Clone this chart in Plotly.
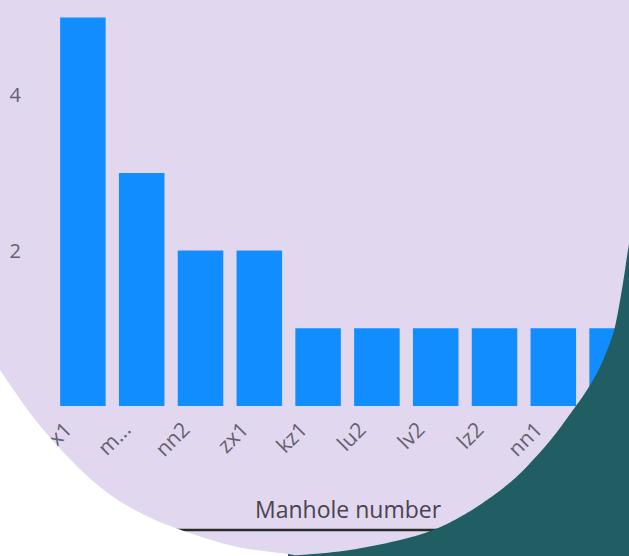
import numpy as np
import plotly.graph_objects as go

# ---- data ----
manholes = ["kx1", "m...", "nn2", "zx1", "kz1", "lu2", "lv2", "lz2", "nn1", "nz1"]
counts = [5, 3, 2, 2, 1, 1, 1, 1, 1, 1]
y_ticks = [0, 2, 4]

# ---- geometry (pixels) ----
W, H = 629, 556
L, R, T, B = 53, 0, 0, 150
PW, PH = W - L - R, H - T - B
BAR0_PX, STEP_PX = 82.9, 58.8
UNIT_PX = 77.7

def px_x(px):
    return (px - L) / PW

def px_y(py):
    return (H - B - py) / PH

LAV = "#E1D7EF"
TEAL = "#215E63"
BLUE = "#118DFF"

# outline of the rounded lavender window (pixels), left to right
WINDOW_EDGE = [(-8, 358), (0, 370), (33, 417), (67, 456), (100, 487), (133, 509),
               (173, 527), (233, 546), (288, 554), (300, 555), (350, 550), (400, 540),
               (433, 530), (460, 517), (487, 500), (513, 480), (533, 460), (553, 437),
               (573, 410), (587, 390), (600, 367), (612, 337), (617, 317), (623, 283),
               (628, 250), (632, 228), (636, 200)]

def catmull(pts, n=10):
    p = np.array(pts, dtype=float)
    p = np.vstack([p[0], p, p[-1]])
    out = []
    for i in range(1, len(p) - 2):
        p0, p1, p2, p3 = p[i - 1], p[i], p[i + 1], p[i + 2]
        for t in np.linspace(0, 1, n, endpoint=False):
            t2, t3 = t * t, t * t * t
            q = 0.5 * ((2 * p1) + (-p0 + p2) * t + (2 * p0 - 5 * p1 + 4 * p2 - p3) * t2
                       + (-p0 + 3 * p1 - 3 * p2 + p3) * t3)
            out.append((q[0], q[1]))
    out.append(tuple(p[-2]))
    return out

edge = catmull(WINDOW_EDGE)
SPLIT = 288

def poly_path(pts):
    s = "M {:.5f},{:.5f}".format(px_x(pts[0][0]), px_y(pts[0][1]))
    for (x, y) in pts[1:]:
        s += " L {:.5f},{:.5f}".format(px_x(x), px_y(y))
    return s + " Z"

left_edge = [pt for pt in edge if pt[0] <= SPLIT]
right_edge = [pt for pt in edge if pt[0] >= SPLIT]
white_pts = [(-8, H + 4)] + left_edge + [(SPLIT, H + 4)]
teal_pts = right_edge + [(640, H + 4), (SPLIT, H + 4)]

fig = go.Figure(go.Bar(
    x=list(range(len(manholes))), y=counts,
    marker=dict(color=BLUE, line=dict(width=0)),
    width=45.5 / STEP_PX,
))

shapes = [
    dict(type="line", xref="paper", yref="paper",
         x0=px_x(150), x1=px_x(460), y0=px_y(530), y1=px_y(530),
         line=dict(color="#2a2a2a", width=2.5), layer="above"),
    dict(type="path", xref="paper", yref="paper", path=poly_path(white_pts),
         fillcolor="#FFFFFF", line=dict(width=0), layer="above"),
    dict(type="path", xref="paper", yref="paper", path=poly_path(teal_pts),
         fillcolor=TEAL, line=dict(width=0), layer="above"),
]

fig.update_layout(
    width=W, height=H,
    margin=dict(l=L, r=R, t=T, b=B, pad=0),
    paper_bgcolor=LAV, plot_bgcolor=LAV,
    showlegend=False,
    font=dict(family="Open Sans", color="#67606e"),
    shapes=shapes,
    xaxis=dict(
        tickmode="array", tickvals=list(range(len(manholes))), ticktext=manholes,
        range=[(L - BAR0_PX) / STEP_PX, (W - R - BAR0_PX) / STEP_PX],
        tickangle=-45, tickfont=dict(size=21, color="#67606e"),
        showgrid=False, zeroline=False, showline=False, ticks="",
        ticklabelstandoff=6, ticklabelshift=-17,
    ),
    yaxis=dict(
        range=[0, PH / UNIT_PX], tickvals=y_ticks,
        tickfont=dict(size=20, color="#67606e"),
        showgrid=False, zeroline=False, showline=False, ticks="",
        ticklabelstandoff=31,
    ),
    annotations=[dict(
        text="Manhole number", xref="paper", yref="paper",
        x=px_x(348), y=px_y(509), xanchor="center", yanchor="middle",
        showarrow=False, font=dict(size=23, color="#4a4350", family="Open Sans"),
    )],
)

fig.write_html("out.html", config={"displayModeBar": False},
               post_script="document.body.style.margin='0';document.body.style.overflow='hidden';")
